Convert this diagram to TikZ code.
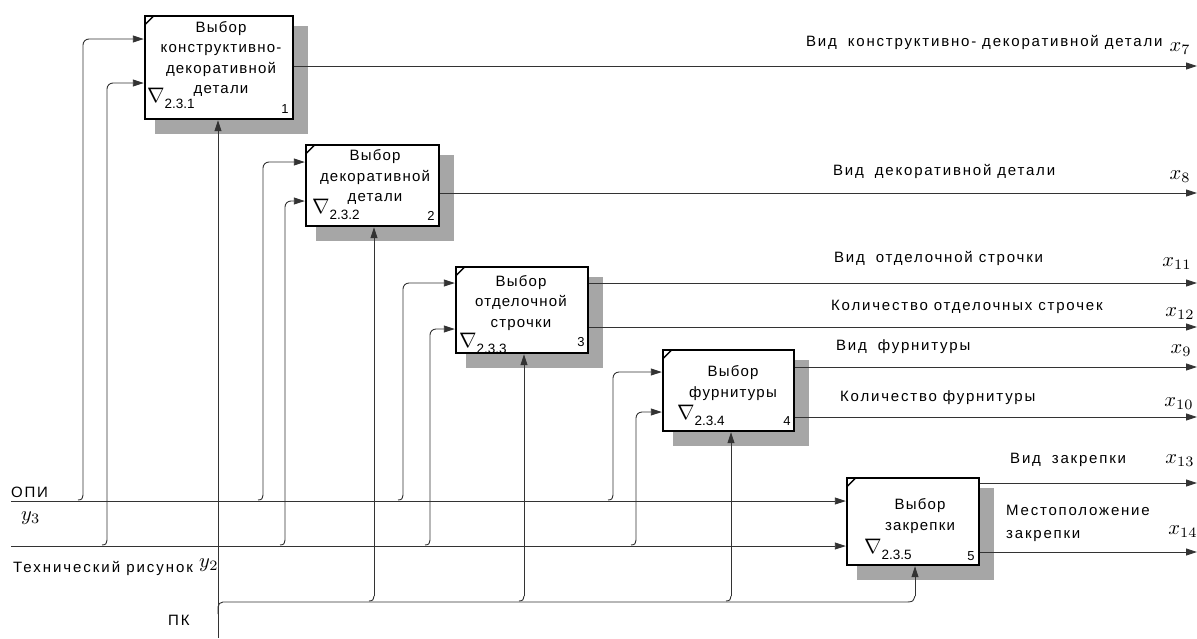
\documentclass[tikz,border=0pt]{standalone}
\usepackage{graphicx}
\usepackage{fontspec}
\setmainfont{Liberation Sans}
\newfontfamily\lsfont[LetterSpace=8]{Liberation Sans}
\newfontfamily\lofont[LetterSpace=12]{Liberation Sans}
\newfontfamily\ltfont[LetterSpace=13]{Liberation Sans}
\usetikzlibrary{arrows.meta,calc,backgrounds}
\begin{document}
\begin{tikzpicture}[x=1pt,y=-1pt,
  ln/.style={draw=black!80, line width=0.9pt},
  arr/.style={ln, -{Triangle[length=11pt,width=7pt]}},
  box/.style={draw=black, line width=2.4pt, fill=white, inner sep=0pt},
  shadowbox/.style={fill=black!35},
  btxt/.style={font=\lsfont\fontsize{15}{20.5}\selectfont, align=center, inner sep=0pt},
  otxt/.style={font=\lofont\fontsize{15}{23}\selectfont, inner sep=0pt, anchor=west},
  xl/.style={inner sep=0pt},
  num/.style={font=\fontsize{13}{13}\selectfont, inner sep=0pt},
  nab/.style={inner sep=0pt, anchor=base west},
]
\newcommand{\xm}[1]{\scalebox{2.05}{$#1$}}
\newcommand{\vs}{\hspace{5pt}}
\useasboundingbox (0,0) rectangle (1197,638);

% boxes
\node[box, minimum width=148pt, minimum height=103pt] (b1) at (219,67.5) {};
\node[box, minimum width=133pt, minimum height=81pt] (b2) at (372.5,185.5) {};
\node[box, minimum width=132pt, minimum height=86pt] (b3) at (522,310) {};
\node[box, minimum width=131pt, minimum height=81pt] (b4) at (728.5,390.5) {};
\node[box, minimum width=132pt, minimum height=87pt] (b5) at (913,521.5) {};

\begin{pgfonlayer}{background}
  \fill[white] (0,0) rectangle (1197,638);
  \foreach \b in {b1,b2,b3,b4,b5}
    \fill[shadowbox] ($(\b.north west)+(11,11)$) rectangle ($(\b.south east)+(13.5,13.5)$);
\end{pgfonlayer}

\foreach \b in {b1,b2,b3,b4,b5}
  \draw[line width=1.5pt] ($(\b.north west)+(1,10)$) -- ($(\b.north west)+(10,1)$);

% box texts
\node[btxt] (t1) at (221,59) {Выбор\\конструктивно-\\декоративной\\детали};
\node[btxt] (t2) at (375,177) {Выбор\\декоративной\\детали};
\node[btxt] (t3) at (521,303) {Выбор\\отделочной\\строчки};
\node[btxt] (t4) at (733,383) {Выбор\\фурнитуры};
\node[btxt] (t5) at (920,516) {Выбор\\закрепки};

% nabla labels
\newcommand{\nb}[1]{\scalebox{2.1}{$\nabla$}{\fontsize{13.5}{13.5}\selectfont\raisebox{-6pt}{#1}}}
\node[nab] (n1) at (147,102) {\nb{2.3.1}};
\node[nab] (n2) at (312,213) {\nb{2.3.2}};
\node[nab] (n3) at (459,347) {\nb{2.3.3}};
\node[nab] (n4) at (677,419) {\nb{2.3.4}};
\node[nab] (n5) at (864,553) {\nb{2.3.5}};

% numbers
\node[num] (m1) at (285,109) {1};
\node[num] (m2) at (431,216) {2};
\node[num] (m3) at (581,342) {3};
\node[num] (m4) at (787,421) {4};
\node[num] (m5) at (971,556) {5};

% left labels
\node[otxt] (lopi) at (11,492) {ОПИ};
\node[xl, anchor=west] (ly3) at (21,518) {\xm{y_3}};
\node[otxt, font=\ltfont\fontsize{15}{18}\selectfont] (ltex) at (13,568) {Технический рисунок};
\node[xl, anchor=west] (ly2) at (199,565) {\xm{y_2}};
\node[otxt] (lpk) at (168,620) {ПК};

% output labels
\node[otxt] (o1) at (806,42) {Вид\vs{} конструктивно- декоративной детали};
\node[otxt] (o2) at (833,171) {Вид\vs{} декоративной детали};
\node[otxt] (o3) at (834,258) {Вид\vs{} отделочной строчки};
\node[otxt] (o4) at (831,307) {Количество отделочных строчек};
\node[otxt] (o5) at (836,347) {Вид\vs{} фурнитуры};
\node[otxt] (o6) at (840,398) {Количество фурнитуры};
\node[otxt] (o7) at (1010,460) {Вид\vs{} закрепки};
\node[otxt, align=left] (o8) at (1006,523.5) {Местоположение\\закрепки};

\node[xl] (x7) at (1180,49) {\xm{x_{7}}};
\node[xl] (x8) at (1180,177) {\xm{x_{8}}};
\node[xl] (x11) at (1177,264) {\xm{x_{11}}};
\node[xl] (x12) at (1180,314) {\xm{x_{12}}};
\node[xl] (x9) at (1181,351) {\xm{x_{9}}};
\node[xl] (x10) at (1179,404) {\xm{x_{10}}};
\node[xl] (x13) at (1180,461) {\xm{x_{13}}};
\node[xl] (x14) at (1183,532) {\xm{x_{14}}};

% free ends
\coordinate (opiS) at (11,501);
\coordinate (texS) at (11,546);
\coordinate (pkS) at (218,638);
\coordinate (e1) at (1197,66);
\coordinate (e2) at (1197,193);
\coordinate (e3) at (1197,283);
\coordinate (e4) at (1197,327);
\coordinate (e5) at (1197,367);
\coordinate (e6) at (1197,417);
\coordinate (e7) at (1197,483);
\coordinate (e8) at (1197,552);

% main input lines
\draw[arr] (opiS) -- (b5.west |- opiS);
\draw[arr] (texS) -- (b5.west |- texS);
\draw[arr] (pkS) -- (b1.south -| pkS);
\draw[ln, rounded corners=5pt] (218,614) -- (218,602) -- (908,602);

% branches from OPI
\foreach \X/\Y/\B in {83/39/b1, 263/162/b2, 403/283/b3, 613/372/b4}{
  \draw[ln] (\X-5,500) .. controls (\X-1,499.5) .. (\X,495);
  \draw[arr, rounded corners=6pt] (\X,495) -- (\X,\Y) -- (\B.west |- \X,\Y);
}
% branches from technical drawing
\foreach \X/\Y/\B in {107/83/b1, 285/201/b2, 430/329/b3, 636/412/b4}{
  \draw[ln] (\X-5,545) .. controls (\X-1,544.5) .. (\X,540);
  \draw[arr, rounded corners=6pt] (\X,540) -- (\X,\Y) -- (\B.west |- \X,\Y);
}
% branches from PK
\foreach \X/\B in {374/b2, 524/b3, 731/b4}{
  \draw[ln] (\X-5,601) .. controls (\X-1,600.5) .. (\X,596);
  \draw[arr] (\X,596) -- (\B.south -| \X,596);
}
\draw[ln] (908,602) .. controls (913,601.5) .. (915,596);
\draw[arr] (915,596) -- (b5.south -| 915,596);

% outputs
\draw[arr] (b1.east |- e1) -- (e1);
\draw[arr] (b2.east |- e2) -- (e2);
\draw[arr] (b3.east |- e3) -- (e3);
\draw[arr] (b3.east |- e4) -- (e4);
\draw[arr] (b4.east |- e5) -- (e5);
\draw[arr] (b4.east |- e6) -- (e6);
\draw[arr] (b5.east |- e7) -- (e7);
\draw[arr] (b5.east |- e8) -- (e8);
\end{tikzpicture}
\end{document}
